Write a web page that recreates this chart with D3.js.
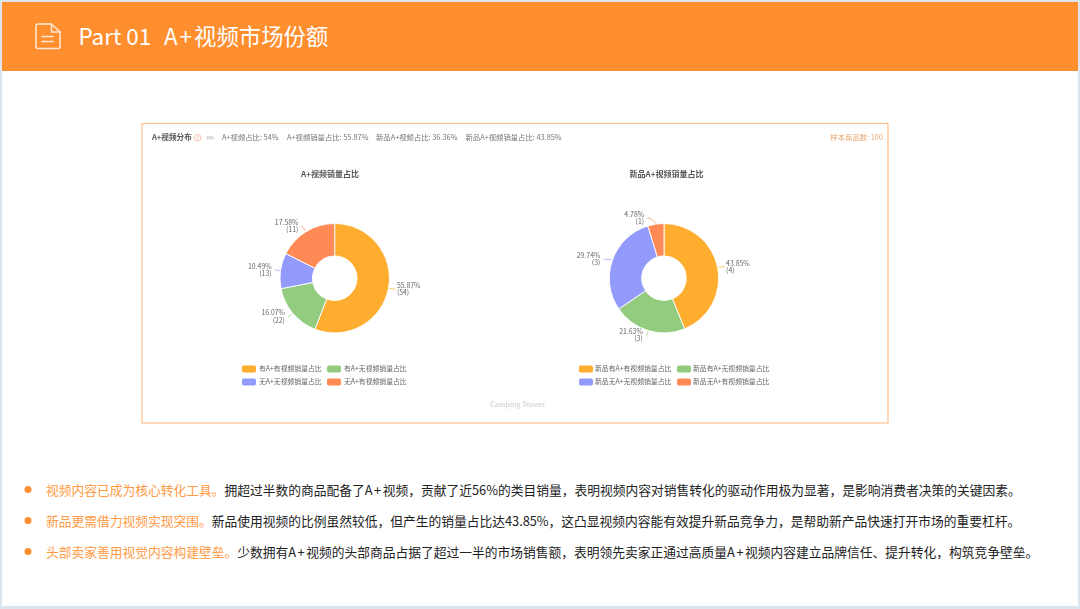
<!DOCTYPE html>
<html><head><meta charset="utf-8">
<script src="https://cdnjs.cloudflare.com/ajax/libs/d3/7.8.5/d3.min.js"></script>
<style>html,body{margin:0;padding:0;background:#fff}svg{display:block}text{font-family:"Noto Sans CJK SC","Noto Sans",sans-serif}</style>
</head><body><svg id="c" width="1080" height="609"></svg>
<script>
const titlePart = "Part 01";
const titleMain = "视频市场份额";
const summaryTitle = "A+视频分布";
const summaryItems = ["A+视频占比: 54%","A+视频销量占比: 55.87%","新品A+视频占比: 36.36%","新品A+视频销量占比: 43.85%"];
const sampleText = "样本商品数: 100";
const footerText = "Camping Stoves";
const palette = ["#FFAD2D","#93CB7F","#929BFB","#FF8A57"];
const chartTitles = ["A+视频销量占比","新品A+视频销量占比"];
const shares1 = [55.87,16.07,10.49,17.58];
const counts1 = [54,22,13,11];
const legend1 = ["有A+有视频销量占比","有A+无视频销量占比","无A+无视频销量占比","无A+有视频销量占比"];
const shares2 = [43.85,21.63,29.74,4.78];
const counts2 = [4,3,3,1];
const legend2 = ["新品有A+有视频销量占比","新品有A+无视频销量占比","新品无A+无视频销量占比","新品无A+有视频销量占比"];
const bulletHeads = ["视频内容已成为核心转化工具。","新品更需借力视频实现突围。","头部卖家善用视觉内容构建壁垒。"];
const bulletBodies = ["拥超过半数的商品配备了A+视频，贡献了近56%的类目销量，表明视频内容对销售转化的驱动作用极为显著，是影响消费者决策的关键因素。",
"新品使用视频的比例虽然较低，但产生的销量占比达43.85%，这凸显视频内容能有效提升新品竞争力，是帮助新产品快速打开市场的重要杠杆。",
"少数拥有A+视频的头部商品占据了超过一半的市场销售额，表明领先卖家正通过高质量A+视频内容建立品牌信任、提升转化，构筑竞争壁垒。"];

const svg = d3.select("#c");
svg.append("defs").append("filter").attr("id","soft").attr("x",0).attr("y",0).attr("width","100%").attr("height","100%")
  .append("feGaussianBlur").attr("stdDeviation",0.35);

// slide frame
svg.append("rect").attr("width",1080).attr("height",609).attr("fill","#DCE5EB");
svg.append("rect").attr("x",2).attr("y",2).attr("width",1076).attr("height",604).attr("fill","#fff");
svg.append("rect").attr("x",2).attr("y",2).attr("width",1076).attr("height",69).attr("fill","#FF8E2F");

// header icon
const ic = svg.append("g").attr("fill","none").attr("stroke","#FFE9D6").attr("stroke-width",1.5).attr("stroke-linecap","round").attr("stroke-linejoin","round");
ic.append("path").attr("d","M38 24H51.5L60 32V46.5Q60 48.5 58 48.5H38Q36 48.5 36 46.5V26Q36 24 38 24Z");
ic.append("path").attr("d","M51.5 24V32H60");
ic.append("path").attr("d","M42 36.5H53M42 41.5H53");
const head = svg.append("text").attr("y",45).attr("fill","#fff").attr("font-size",22.4);
head.append("tspan").attr("x",78.5).text(titlePart);
head.append("tspan").attr("x",164).attr("letter-spacing",2).text("A+");
head.append("tspan").text(titleMain);

// chart card
svg.append("rect").attr("x",142).attr("y",123.5).attr("width",746).attr("height",299.5).attr("fill","#fff").attr("stroke","#FFBE8C").attr("stroke-width",1.2);
const card = svg.append("g").attr("filter","url(#soft)");
card.append("text").attr("x",152).attr("y",140).attr("font-size",7.6).attr("font-weight",700).attr("fill","#555").text(summaryTitle);
card.append("circle").attr("cx",197.7).attr("cy",137.7).attr("r",3.3).attr("fill","none").attr("stroke","#F2A58A").attr("stroke-width",.7);
card.append("text").attr("x",197.7).attr("y",139.8).attr("text-anchor","middle").attr("font-size",5).attr("fill","#F2A58A").text("?");
card.append("rect").attr("x",206).attr("y",136).attr("width",8).attr("height",3.4).attr("rx",1.5).attr("fill","#DDD");
[222,287,376,465.5].forEach((x,i)=>card.append("text").attr("x",x).attr("y",140).attr("font-size",7.35).attr("fill","#777").text(summaryItems[i]));
card.append("text").attr("x",883).attr("y",140).attr("text-anchor","end").attr("font-size",7.35).attr("fill","#E8A670").text(sampleText);
card.append("text").attr("x",517.5).attr("y",406.5).attr("text-anchor","middle").attr("font-size",7).attr("font-weight",700).attr("fill","#D9D9D9").text(footerText);

// relative label-layout adjustments: [elbow dx, elbow dy, extra run]
const nudges1 = [[0,0,0],[0,0,0],[0,0,0],[-1,-1,0]];
const nudges2 = [[0,0,0],[0,0,0],[-2,.7,1.3],[-5,-1,2]];

function donut(cx,cy,title,titleX,shares,counts,legend,lx,ltx,nudges){
  const g = card.append("g");
  g.append("text").attr("x",titleX).attr("y",176.8).attr("text-anchor","middle").attr("font-size",8).attr("font-weight",700).attr("fill","#555").text(title);
  const pie = d3.pie().sort(null).value(d=>d)(shares);
  const R=54.7, r=22.3;
  const arc = d3.arc().innerRadius(r).outerRadius(R);
  const color = d3.scaleOrdinal().domain(d3.range(4)).range(palette);
  const p = g.append("g").attr("transform",`translate(${cx},${cy})`);
  p.selectAll("path.s").data(pie).join("path").attr("class","s").attr("d",arc)
    .attr("fill",(d,i)=>color(i)).attr("stroke","#fff").attr("stroke-width",.9);
  pie.forEach((d,i)=>{
    const a=(d.startAngle+d.endAngle)/2, s=Math.sin(a), c=-Math.cos(a), n=nudges[i];
    const x1=s*(R+1),y1=c*(R+1),x2=s*(R+5)+n[0],y2=c*(R+5)+n[1],dir=s>=0?1:-1;
    const x3=x2+dir*((dir>0?2:1)+n[2]);
    p.append("path").attr("d",d3.line()([[x1,y1],[x2,y2],[x3,y2]])).attr("fill","none").attr("stroke",color(i)).attr("stroke-width",.7);
    const tx=x3+(dir>0?1.5:-3);
    const lab=p.append("text").attr("font-size",6.9).attr("fill","#666").attr("text-anchor",dir>0?"start":"end");
    lab.append("tspan").attr("x",tx).attr("y",y2-1.2).text(d3.format(".2f")(d.data)+"%");
    lab.append("tspan").attr("x",tx).attr("y",y2+6.1).text("("+counts[i]+")");
  });
  const rows=[369,382];
  legend.forEach((t,i)=>{
    const col=i%2,row=i>>1;
    g.append("rect").attr("x",lx[col]).attr("y",rows[row]-3.5).attr("width",14).attr("height",7).attr("rx",1.8).attr("fill",color(i));
    g.append("text").attr("x",ltx[col]).attr("y",rows[row]+2.4).attr("font-size",6.85).attr("fill","#666").text(t);
  });
}
donut(334.7,278.2,chartTitles[0],330,shares1,counts1,legend1,[242,327],[259,344],nudges1);
donut(664,278.2,chartTitles[1],666.5,shares2,counts2,legend2,[579,677],[595,693],nudges2);

// bullets
[490,521,552].forEach((y,i)=>{
  svg.append("circle").attr("cx",28).attr("cy",y-.5).attr("r",3.5).attr("fill","#FF8E2F");
  const t=svg.append("text").attr("x",46).attr("y",y+4.5).attr("font-size",12.75);
  t.append("tspan").attr("fill","#FF9A45").text(bulletHeads[i]);
  bulletBodies[i].split(/(A\+)/).forEach(part=>{
    const sp=t.append("tspan").attr("fill","#222").text(part);
    if(part==="A+") sp.attr("letter-spacing",1.6);
  });
});
</script></body></html>
